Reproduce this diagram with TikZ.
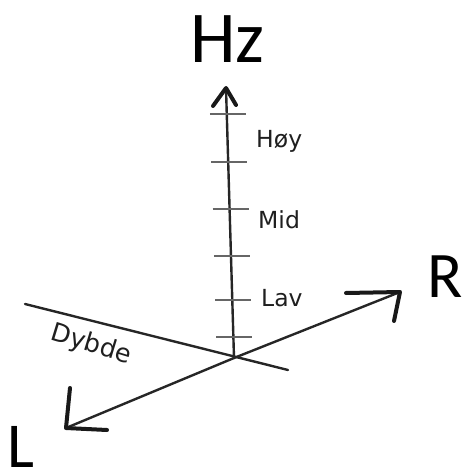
\documentclass[tikz,border=0pt]{standalone}
\usepackage{fontspec}
\setmainfont{DejaVu Sans}
\newfontfamily\bigfont{Carlito}
\begin{document}
\begin{tikzpicture}[x=1pt,y=-1pt,
  axisline/.style={line width=2.4pt,draw=black!85,line cap=round},
  headline/.style={line width=4pt,draw=black!90,line cap=round,line join=round},
  tickline/.style={line width=2pt,draw=black!60},
  smalllbl/.style={font=\fontsize{23.5}{23.5}\selectfont,text=black!88,inner sep=0pt,anchor=base west},
  biglbl/.style={inner sep=0pt,anchor=base west,text=black}]
\useasboundingbox (0,0) rectangle (467,468);
% key points
\coordinate (O) at (234,358);
\coordinate (top) at (226,88);
\coordinate (topa) at (213,106);
\coordinate (topb) at (236,105);
\coordinate (ltip) at (66,428);
\coordinate (la) at (70,388);
\coordinate (lb) at (107,430);
\coordinate (rtip) at (400,292);
\coordinate (ra) at (346,293);
\coordinate (rb) at (394,321);
\coordinate (d1) at (25,304);
\coordinate (d2) at (288,370);
% depth line
\draw[axisline] (d1) -- (d2);
% axes
\draw[axisline] (O) -- (top);
\draw[axisline] (O) -- (ltip);
\draw[axisline] (O) -- (rtip);
% arrow heads
\draw[headline] (topa) -- (top) -- (topb);
\draw[headline] (la) -- (ltip) -- (lb);
\draw[headline] (ra) -- (rtip) -- (rb);
% ticks
\foreach \yy [count=\i] in {114,162,209,256,300,337}{
  \pgfmathsetmacro{\xx}{234-(358-\yy)*8/270}
  \coordinate (t\i a) at (\xx-17,\yy);
  \coordinate (t\i b) at (\xx+19,\yy);
  \draw[tickline] (t\i a) -- (t\i b);
}
% labels
\node[smalllbl] (hoy) at (256,147) {Høy};
\node[smalllbl] (mid) at (258,228) {Mid};
\node[smalllbl] (lav) at (261,306) {Lav};
\node[font=\fontsize{25.5}{25.5}\selectfont,text=black!88,inner sep=0pt,rotate=-17] (dybde) at (91,345) {Dybde};
\node[biglbl,font=\bigfont\fontsize{73}{73}\selectfont] (hz) at (190,63) {Hz};
\node[biglbl,font=\bigfont\fontsize{65}{65}\selectfont] (r) at (427,297) {R};
\node[biglbl,font=\bigfont\fontsize{64}{64}\selectfont] (l) at (7,467) {L};
\end{tikzpicture}
\end{document}
